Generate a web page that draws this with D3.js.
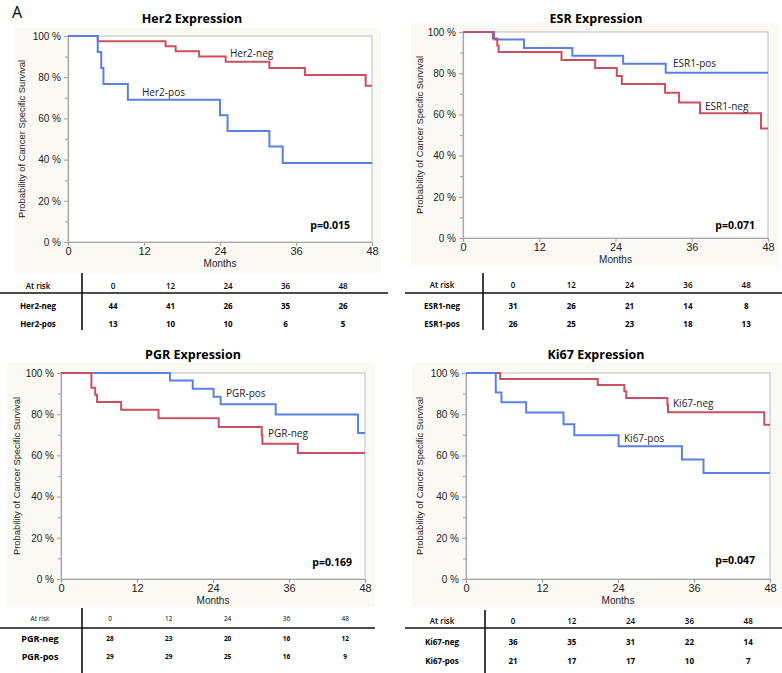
<!DOCTYPE html>
<html>
<head>
<meta charset="utf-8">
<script src="https://cdn.jsdelivr.net/npm/d3@7"></script>
<style>
  body { margin: 0; background: #fff; }
  svg text { font-family: "Liberation Sans", Arial, sans-serif; }
  .cal { font-family: "Open Sans", "Noto Sans", sans-serif; }
</style>
</head>
<body>
<svg id="fig" width="782" height="673"></svg>
<script>
// month ticks shared by every panel and table
var months = [0, 12, 24, 36, 48];

// survival curves: [month, % surviving]
var her2Neg = [[0,100],[4.7,97.4],[15.4,95.0],[17.0,92.6],[20.7,90.1],[24.9,87.5],[31.8,84.5],[37.4,81.1],[47.0,75.9]];
var her2Pos = [[0,100],[4.7,92.2],[5.25,84.5],[5.6,76.7],[9.45,69.1],[24.0,61.5],[25.2,53.9],[31.8,46.3],[33.9,38.3]];
var esrNeg  = [[0,100],[4.7,96.8],[5.4,93.5],[5.6,90.3],[15.5,86.4],[20.8,82.5],[24.2,78.7],[25.0,74.7],[31.8,70.5],[34.0,65.8],[37.3,60.6],[46.9,53.2]];
var esrPos  = [[0,100],[4.9,96.3],[9.6,92.2],[17.2,88.5],[25.2,84.6],[31.9,80.2]];
var pgrNeg  = [[0,100],[4.8,92.9],[5.4,89.5],[5.7,85.9],[9.5,82.1],[15.4,78.0],[24.9,73.8],[31.7,69.8],[31.8,65.6],[37.4,61.2]];
var pgrPos  = [[0,100],[17.2,96.3],[20.8,92.4],[24.1,88.5],[25.2,84.8],[33.9,79.8],[46.9,70.9]];
var ki67Neg = [[0,100],[5.4,97.1],[20.8,94.2],[25.0,91.1],[25.3,87.9],[31.8,84.6],[31.9,80.9],[47.1,74.9]];
var ki67Pos = [[0,100],[4.7,90.5],[5.6,85.8],[9.5,80.8],[15.4,75.1],[17.1,69.8],[24.1,64.5],[34.1,58.0],[37.5,51.5]];

// numbers at risk
var her2NegRisk = [44, 41, 26, 35, 26];
var her2PosRisk = [13, 10, 10, 6, 5];
var esrNegRisk  = [31, 26, 21, 14, 8];
var esrPosRisk  = [26, 25, 23, 18, 13];
var pgrNegRisk  = [28, 23, 20, 16, 12];
var pgrPosRisk  = [29, 29, 25, 16, 9];
var ki67NegRisk = [36, 35, 31, 22, 14];
var ki67PosRisk = [21, 17, 17, 10, 7];

var RED = "#c9505f", BLUE = "#5a80e2";

var svg = d3.select("#fig");

svg.append("text").attr("class", "cal")
  .attr("x", 12).attr("y", 18)
  .style("font-size", "16px").text("A");

var panels = [
  { title: "Her2 Expression", x0: 68, x1: 372, yTop: 36, yBot: 242, bg: [14, 28, 381, 273], titleX: 192, titleY: 23, yLabX: 22,
    curves: [
      { data: her2Neg, color: RED,  name: "Her2-neg", lx: 230, ly: 57 },
      { data: her2Pos, color: BLUE, name: "Her2-pos", lx: 142, ly: 96 }],
    p: "p=0.015", px: 350, py: 229,
    table: { top: 273, bottom: 330, hy: 286, line: 293, rows: [306, 324], lineX: [0, 388], vx: 82, labX: 38, col0: 113, step: 57.5, small: false,
      names: ["Her2-neg", "Her2-pos"], risk: [her2NegRisk, her2PosRisk] } },
  { title: "ESR Expression", x0: 463, x1: 768, yTop: 32, yBot: 238, bg: [411, 23, 779, 267], titleX: 596, titleY: 23, yLabX: 420,
    curves: [
      { data: esrPos, color: BLUE, name: "ESR1-pos", lx: 673, ly: 67 },
      { data: esrNeg, color: RED,  name: "ESR1-neg", lx: 705, ly: 110 }],
    p: "p=0.071", px: 755, py: 229,
    table: { top: 273, bottom: 330, hy: 285, line: 293, rows: [306, 324], lineX: [405, 782], vx: 483, labX: 442, col0: 513, step: 58.3, small: false,
      names: ["ESR1-neg", "ESR1-pos"], risk: [esrNegRisk, esrPosRisk] } },
  { title: "PGR Expression", x0: 61, x1: 365, yTop: 373, yBot: 579, bg: [7, 363, 375, 607], titleX: 193, titleY: 359, yLabX: 17,
    curves: [
      { data: pgrPos, color: BLUE, name: "PGR-pos", lx: 226, ly: 397 },
      { data: pgrNeg, color: RED,  name: "PGR-neg", lx: 268, ly: 437 }],
    p: "p=0.169", px: 352, py: 566,
    table: { top: 608, bottom: 673, hy: 619, line: 628, rows: [639, 657], lineX: [0, 375], vx: 82, labX: 40, col0: 110, step: 58.8, small: true,
      names: ["PGR-neg", "PGR-pos"], risk: [pgrNegRisk, pgrPosRisk] } },
  { title: "Ki67 Expression", x0: 466, x1: 770, yTop: 373, yBot: 579, bg: [412, 363, 782, 607], titleX: 596, titleY: 359, yLabX: 420,
    curves: [
      { data: ki67Neg, color: RED,  name: "Ki67-neg", lx: 673, ly: 407 },
      { data: ki67Pos, color: BLUE, name: "Ki67-pos", lx: 624, ly: 442 }],
    p: "p=0.047", px: 755, py: 564,
    table: { top: 610, bottom: 673, hy: 621, line: 628, rows: [642, 661], lineX: [405, 782], vx: 485, labX: 442, col0: 513, step: 58.8, small: false,
      names: ["Ki67-neg", "Ki67-pos"], risk: [ki67NegRisk, ki67PosRisk] } }
];

panels.forEach(function(p) {
  var g = svg.append("g");

  // beige backdrop and white plot area
  g.append("rect")
    .attr("x", p.bg[0]).attr("y", p.bg[1])
    .attr("width", p.bg[2] - p.bg[0]).attr("height", p.bg[3] - p.bg[1])
    .attr("fill", "#faf9f4");
  g.append("rect")
    .attr("x", p.x0).attr("y", p.yTop)
    .attr("width", p.x1 - p.x0).attr("height", p.yBot - p.yTop)
    .attr("fill", "#fff").attr("stroke", "#c9c9c9").attr("stroke-width", 1.2);

  g.append("text").attr("class", "cal")
    .attr("x", p.titleX).attr("y", p.titleY)
    .attr("text-anchor", "middle")
    .style("font-size", "12.5px").style("font-weight", "bold")
    .text(p.title);

  var x = d3.scaleLinear().domain([0, 48]).range([p.x0, p.x1]);
  var y = d3.scaleLinear().domain([0, 100]).range([p.yBot, p.yTop]);

  // y axis, majors and minors
  var yAx = g.append("g").attr("transform", "translate(" + p.x0 + ",0)")
    .call(d3.axisLeft(y).tickValues([0, 20, 40, 60, 80, 100]).tickSize(4).tickPadding(3)
      .tickFormat(function(d) { return d + " %"; }));
  g.append("g").attr("transform", "translate(" + p.x0 + ",0)")
    .call(d3.axisLeft(y).tickValues([10, 30, 50, 70, 90]).tickSize(3).tickFormat(""))
    .select(".domain").remove();

  var xAx = g.append("g").attr("transform", "translate(0," + p.yBot + ")")
    .call(d3.axisBottom(x).tickValues(months).tickSize(4).tickPadding(1));

  g.selectAll(".domain, .tick line").attr("stroke", "#a9a9a9").attr("stroke-width", 1.2);
  yAx.selectAll("text").style("font-size", "10px").attr("fill", "#222");
  xAx.selectAll("text").style("font-size", "11px").attr("fill", "#222");

  g.append("text")
    .attr("x", (p.x0 + p.x1) / 2).attr("y", p.yBot + 25)
    .attr("text-anchor", "middle")
    .style("font-size", "10px").attr("fill", "#222")
    .text("Months");

  g.append("text")
    .attr("transform", "translate(" + p.yLabX + "," + ((p.yTop + p.yBot) / 2) + ") rotate(-90)")
    .attr("text-anchor", "middle").attr("dy", "0.35em")
    .attr("textLength", 158).attr("lengthAdjust", "spacingAndGlyphs")
    .style("font-size", "9.5px").attr("fill", "#222")
    .text("Probability of Cancer Specific Survival");

  // step curves
  var line = d3.line()
    .x(function(d) { return x(d[0]); })
    .y(function(d) { return y(d[1]); })
    .curve(d3.curveStepAfter);

  p.curves.forEach(function(c) {
    var pts = c.data.concat([[48, c.data[c.data.length - 1][1]]]);
    g.append("path")
      .datum(pts)
      .attr("d", line)
      .attr("fill", "none")
      .attr("stroke", c.color)
      .attr("stroke-width", 2);
    g.append("text").attr("class", "cal")
      .attr("x", c.lx).attr("y", c.ly)
      .style("font-size", "10px").attr("fill", "#222")
      .text(c.name);
  });

  g.append("text").attr("class", "cal")
    .attr("x", p.px).attr("y", p.py)
    .attr("text-anchor", "end")
    .style("font-size", "10.5px").style("font-weight", "bold")
    .text(p.p);

  // at-risk table
  var t = p.table;
  g.append("line")
    .attr("x1", t.lineX[0]).attr("x2", t.lineX[1])
    .attr("y1", t.line).attr("y2", t.line)
    .attr("stroke", "#111").attr("stroke-width", 1.6);
  g.append("line")
    .attr("x1", t.vx).attr("x2", t.vx)
    .attr("y1", t.top).attr("y2", t.bottom)
    .attr("stroke", "#111").attr("stroke-width", 1.6);

  var headSize = t.small ? "6.5px" : "8px";
  var labSize = t.small ? "9px" : "8px";
  var valSize = t.small ? "6.5px" : "8px";

  g.append("text").attr("class", "cal")
    .attr("x", t.labX).attr("y", t.hy).attr("dy", "0.35em")
    .attr("text-anchor", "middle")
    .style("font-size", headSize).style("font-weight", t.small ? "normal" : "600")
    .text("At risk");
  months.forEach(function(m, i) {
    g.append("text").attr("class", "cal")
      .attr("x", t.col0 + i * t.step).attr("y", t.hy).attr("dy", "0.35em")
      .attr("text-anchor", "middle")
      .style("font-size", headSize).style("font-weight", t.small ? "normal" : "600")
      .text(m);
  });

  t.names.forEach(function(n, r) {
    g.append("text").attr("class", "cal")
      .attr("x", t.labX).attr("y", t.rows[r]).attr("dy", "0.35em")
      .attr("text-anchor", "middle")
      .style("font-size", labSize).style("font-weight", "bold")
      .text(n);
    t.risk[r].forEach(function(v, i) {
      g.append("text").attr("class", "cal")
        .attr("x", t.col0 + i * t.step).attr("y", t.rows[r]).attr("dy", "0.35em")
        .attr("text-anchor", "middle")
        .style("font-size", valSize).style("font-weight", "bold")
        .text(v);
    });
  });
});
</script>
</body>
</html>
